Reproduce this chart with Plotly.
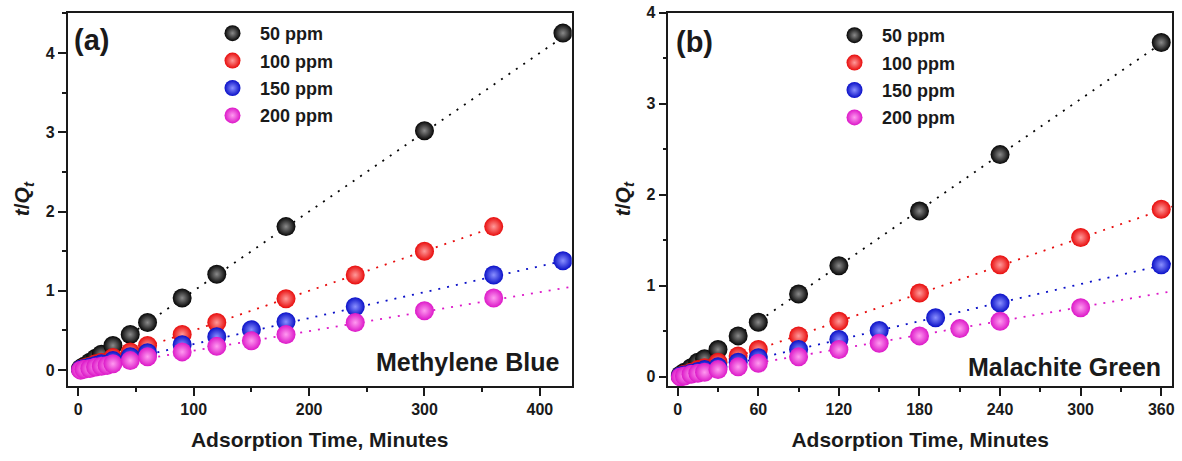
import plotly.graph_objects as go

# ---------------- data ----------------
series_names = ["50 ppm", "100 ppm", "150 ppm", "200 ppm"]
series_colors = ["#050505", "#e80c0c", "#0a10c8", "#dc18c8"]
series_highlights = ["#8a8a8a", "#ff9a9a", "#8a90ff", "#ff9af0"]

# (a) Methylene Blue
mb_t50 = [2, 5, 10, 15, 20, 30, 45, 60, 90, 120, 180, 300, 420]
mb_y50 = [0.02, 0.05, 0.10, 0.15, 0.20, 0.31, 0.45, 0.60, 0.91, 1.21, 1.81, 3.02, 4.25]
mb_t100 = [2, 5, 10, 15, 20, 30, 45, 60, 90, 120, 180, 240, 300, 360]
mb_y100 = [0.01, 0.03, 0.05, 0.08, 0.10, 0.16, 0.23, 0.31, 0.45, 0.60, 0.90, 1.20, 1.50, 1.81]
mb_t150 = [2, 5, 10, 15, 20, 30, 45, 60, 90, 120, 150, 180, 240, 360, 420]
mb_y150 = [0.01, 0.02, 0.04, 0.06, 0.08, 0.12, 0.17, 0.22, 0.32, 0.42, 0.51, 0.61, 0.80, 1.20, 1.38]
mb_t200 = [2, 5, 10, 15, 20, 25, 30, 45, 60, 90, 120, 150, 180, 240, 300, 360]
mb_y200 = [0.00, 0.01, 0.02, 0.04, 0.05, 0.06, 0.08, 0.12, 0.17, 0.23, 0.30, 0.37, 0.45, 0.60, 0.75, 0.91]
mb_fit_t = [[0, 420], [0, 360], [0, 427], [0, 427]]
mb_fit_y = [[0.0, 4.20], [0.0, 1.80], [0.0, 1.40], [0.0, 1.05]]

# (b) Malachite Green
mg_t50 = [2, 5, 10, 15, 20, 30, 45, 60, 90, 120, 180, 240, 360]
mg_y50 = [0.02, 0.05, 0.10, 0.16, 0.20, 0.30, 0.45, 0.60, 0.91, 1.22, 1.82, 2.44, 3.67]
mg_t100 = [2, 5, 10, 15, 20, 30, 45, 60, 90, 120, 180, 240, 300, 360]
mg_y100 = [0.01, 0.03, 0.05, 0.08, 0.10, 0.16, 0.23, 0.30, 0.45, 0.61, 0.92, 1.23, 1.53, 1.84]
mg_t150 = [2, 5, 10, 15, 20, 30, 45, 60, 90, 120, 150, 192, 240, 360]
mg_y150 = [0.01, 0.02, 0.04, 0.06, 0.08, 0.11, 0.16, 0.21, 0.30, 0.41, 0.51, 0.65, 0.81, 1.23]
mg_t200 = [2, 5, 10, 15, 20, 30, 45, 60, 90, 120, 150, 180, 210, 240, 300]
mg_y200 = [0.00, 0.01, 0.03, 0.04, 0.05, 0.08, 0.11, 0.15, 0.22, 0.30, 0.37, 0.45, 0.53, 0.61, 0.76]
mg_fit_t = [[0, 360], [0, 368], [0, 368], [0, 368]]
mg_fit_y = [[0.0, 3.66], [0.0, 1.87], [0.0, 1.25], [0.0, 0.94]]

mb_t = [mb_t50, mb_t100, mb_t150, mb_t200]
mb_y = [mb_y50, mb_y100, mb_y150, mb_y200]
mg_t = [mg_t50, mg_t100, mg_t150, mg_t200]
mg_y = [mg_y50, mg_y100, mg_y150, mg_y200]

x_title = "Adsorption Time, Minutes"
y_title = "<b><i>t</i>/<i>Q<sub>t</sub></i></b>"
panel_labels = ["(a)", "(b)"]
dye_labels = ["Methylene Blue", "Malachite Green"]
mb_xticks = [0, 100, 200, 300, 400]
mg_xticks = [0, 60, 120, 180, 240, 300, 360]
yticks_a = [0, 1, 2, 3, 4]
yticks_b = [0, 1, 2, 3, 4]

# ---------------- figure ----------------
W, H = 1182, 461
FONT = "Liberation Sans, Arial, sans-serif"
INK = "#1a1a1a"
fig = go.Figure()

def add_panel(ts, ys, fts, fys, xa, ya, legend):
    for i in range(4):
        fig.add_trace(go.Scatter(
            x=fts[i], y=fys[i], mode="lines", xaxis=xa, yaxis=ya,
            line=dict(color=series_colors[i], width=1.8, dash="2px,7px"),
            showlegend=False, hoverinfo="skip"))
    for i in range(4):
        fig.add_trace(go.Scatter(
            x=ts[i], y=ys[i], mode="markers", xaxis=xa, yaxis=ya,
            name=series_names[i], legend=legend, legendgroup=legend + str(i),
            marker=dict(size=19, color=series_colors[i],
                        gradient=dict(type="radial", color=series_highlights[i]),
                        line=dict(width=0))))

add_panel(mb_t, mb_y, mb_fit_t, mb_fit_y, "x", "y", "legend")
add_panel(mg_t, mg_y, mg_fit_t, mg_fit_y, "x2", "y2", "legend2")

def px_x(p):
    return p / W

def px_y(p):
    return 1 - p / H

ydom = [px_y(386), px_y(12.5)]

axis_common = dict(
    showline=True, linecolor=INK, linewidth=1.6, mirror=True,
    ticks="outside", ticklen=8, tickwidth=1.5, tickcolor=INK,
    showgrid=False, zeroline=False, automargin=False,
    tickfont=dict(family=FONT, size=16, color=INK, weight="bold"),
)
minor_common = dict(ticklen=4, tickwidth=1.5, tickcolor=INK, ticks="outside")
xtitle_font = dict(family=FONT, size=21, color=INK)
ytitle_font = dict(family=FONT, size=21, color=INK)

fig.update_layout(
    width=W, height=H, margin=dict(l=0, r=0, t=0, b=0, autoexpand=False),
    paper_bgcolor="white", plot_bgcolor="white",
    xaxis=dict(domain=[px_x(67.7), px_x(571.7)], range=[-9.2, 427.6], tickvals=mb_xticks,
               minor=dict(dtick=50, **minor_common),
               title=dict(text="<b>" + x_title + "</b>", font=xtitle_font, standoff=15),
               anchor="y", **axis_common),
    yaxis=dict(domain=ydom, range=[-0.20, 4.51], tickvals=yticks_a,
               minor=dict(dtick=0.5, **minor_common),
               title=dict(text=y_title, font=ytitle_font, standoff=10),
               anchor="x", **axis_common),
    xaxis2=dict(domain=[px_x(668.3), px_x(1172)], range=[-7.0, 368.0], tickvals=mg_xticks,
                minor=dict(dtick=30, **minor_common),
                title=dict(text="<b>" + x_title + "</b>", font=xtitle_font, standoff=15),
                anchor="y2", **axis_common),
    yaxis2=dict(domain=ydom, range=[-0.10, 4.0], tickvals=yticks_b,
                minor=dict(dtick=0.5, **minor_common),
                title=dict(text=y_title, font=ytitle_font, standoff=10),
                anchor="x2", **axis_common),
    legend=dict(x=px_x(205), y=px_y(15), xanchor="left", yanchor="top",
                bgcolor="rgba(0,0,0,0)", itemwidth=45, tracegroupgap=1,
                font=dict(family=FONT, size=18, color=INK, weight="bold")),
    legend2=dict(x=px_x(827), y=px_y(17), xanchor="left", yanchor="top",
                 bgcolor="rgba(0,0,0,0)", itemwidth=45, tracegroupgap=1,
                 font=dict(family=FONT, size=18, color=INK, weight="bold")),
)

annotations = [
    dict(text="<b>" + panel_labels[0] + "</b>", xref="paper", yref="paper",
         x=px_x(72), y=px_y(40), xanchor="left", yanchor="middle", showarrow=False,
         font=dict(family=FONT, size=29, color=INK)),
    dict(text="<b>" + panel_labels[1] + "</b>", xref="paper", yref="paper",
         x=px_x(674), y=px_y(42), xanchor="left", yanchor="middle", showarrow=False,
         font=dict(family=FONT, size=29, color=INK)),
    dict(text="<b>" + dye_labels[0] + "</b>", xref="paper", yref="paper",
         x=px_x(561), y=px_y(362), xanchor="right", yanchor="middle", showarrow=False,
         font=dict(family=FONT, size=25, color=INK)),
    dict(text="<b>" + dye_labels[1] + "</b>", xref="paper", yref="paper",
         x=px_x(1163), y=px_y(367), xanchor="right", yanchor="middle", showarrow=False,
         font=dict(family=FONT, size=25, color=INK)),
]
fig.update_layout(annotations=annotations)

fig.write_html("out.html", config={"displayModeBar": False},
               post_script="document.body.style.margin='0';")
